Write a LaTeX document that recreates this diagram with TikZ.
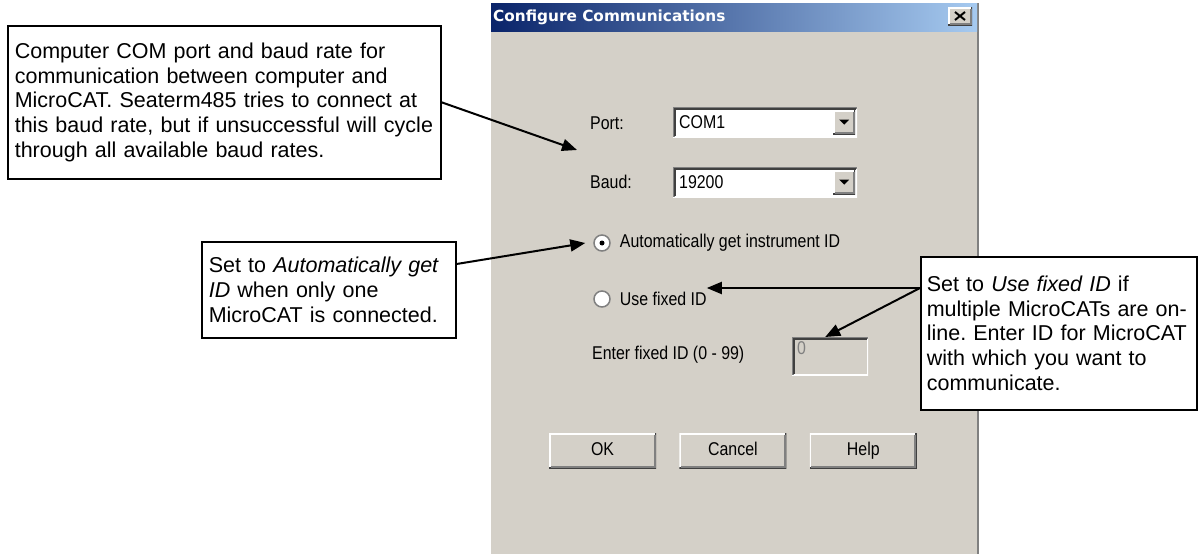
\documentclass[tikz,border=0pt]{standalone}
\usepackage{fontspec}
\setmainfont{Liberation Sans}
\newfontfamily\dlgfont[FakeStretch=0.86]{Liberation Sans}
\newfontfamily\titlefont{DejaVu Sans}
\usetikzlibrary{positioning,arrows.meta,calc}
\definecolor{winface}{HTML}{D4D0C8}
\definecolor{winshadow}{HTML}{808080}
\definecolor{windark}{HTML}{404040}
\definecolor{titledark}{HTML}{0A246A}
\definecolor{titlelight}{HTML}{A6CAF0}
\frenchspacing
\tikzset{
  raised/.style={fill=winface, inner sep=0pt,
    path picture={
      \draw[white, line width=3pt] (path picture bounding box.south west) |- (path picture bounding box.north east);
      \draw[windark, line width=3pt] (path picture bounding box.south west) -| (path picture bounding box.north east);
      \draw[winshadow, line width=2pt] ([shift={(1.5pt,1.5pt)}]path picture bounding box.south west) -| ([shift={(-1.5pt,-1.5pt)}]path picture bounding box.north east);
    }},
  sunken/.style={inner sep=0pt,
    path picture={
      \draw[white, line width=3pt] (path picture bounding box.south west) -| (path picture bounding box.north east);
      \draw[winshadow, line width=3pt] (path picture bounding box.south west) |- (path picture bounding box.north east);
      \draw[windark, line width=2pt] ([shift={(1.5pt,1.5pt)}]path picture bounding box.south west) |- ([shift={(-1.5pt,-1.5pt)}]path picture bounding box.north east);
    }},
}

\begin{document}
\begin{tikzpicture}[
    x=1pt, y=-1pt,
    callout/.style={draw, line width=1.6pt, fill=white, anchor=north west, align=left,
      inner xsep=7pt, font=\fontsize{21.5}{24.7}\selectfont,
      execute at begin node={\hyphenpenalty=10000}},
    callarrow/.style={line width=2pt, -{Triangle[length=15pt,width=12pt]}},
    dlglabel/.style={font=\dlgfont\fontsize{18.5}{20}\selectfont, inner sep=0pt, anchor=west},
    field/.style={sunken, fill=white, anchor=north west, minimum width=184pt, minimum height=30pt},
    dropbtn/.style={raised, minimum width=22pt, minimum height=24pt, anchor=east},
    radio/.style={circle, fill=white, draw=winshadow, line width=1.5pt, minimum size=16pt, inner sep=0pt},
    pushbtn/.style={raised, minimum width=107pt, minimum height=35pt, text height=13pt, text depth=4pt,
      font=\dlgfont\fontsize{18.5}{20}\selectfont}
  ]
  \useasboundingbox (0,0) rectangle (1200,554);

  % dialog window
  \fill[winface] (490,3) rectangle (979,560);
  \draw[white, line width=1pt] (490.5,560) -- (490.5,3.5) -- (978,3.5);
  \draw[winshadow, line width=1.5pt] (978,3) -- (978,560);
  \node (titlebar) [shade, left color=titledark, right color=titlelight, anchor=north west,
    minimum width=486pt, minimum height=28pt, inner sep=0pt] at (491,3) {};
  \node (title) [anchor=west, inner sep=0pt, text=white, font=\titlefont\bfseries\fontsize{15.3}{18}\selectfont]
    at (493,17) {Configure Communications};
  \node (closebtn) [raised, minimum width=24pt, minimum height=18pt] at (960,16) {};
  \draw[line width=2pt] ($(closebtn.center)+(-5,-4)$) -- ($(closebtn.center)+(5,4)$)
    ($(closebtn.center)+(-5,4)$) -- ($(closebtn.center)+(5,-4)$);

  % port and baud
  \node (port) [dlglabel] at (590,123) {Port:};
  \node (com) [field] at (673,107) {};
  \node (comtxt) [dlglabel, right=6pt of com.west] {COM1};
  \node (comdrop) [dropbtn] at ([xshift=-2pt]com.east) {};
  \fill ($(comdrop.center)+(-5,-2.5)$) -- ++(10,0) -- ++(-5,5) -- cycle;

  \node (baud) [dlglabel] at (590,182) {Baud:};
  \node (baudbox) [field] at (673,167) {};
  \node (baudtxt) [dlglabel, right=6pt of baudbox.west] {19200};
  \node (bauddrop) [dropbtn] at ([xshift=-2pt]baudbox.east) {};
  \fill ($(bauddrop.center)+(-5,-2.5)$) -- ++(10,0) -- ++(-5,5) -- cycle;

  % instrument ID
  \node (autoradio) [radio] at (602,243) {};
  \node (autodot) [circle, fill=black, minimum size=5pt, inner sep=0pt] at (autoradio) {};
  \node (autoid) [dlglabel, right=9pt of autoradio] {Automatically get instrument ID};
  \node (fixradio) [radio] at (602,299) {};
  \node (fixid) [dlglabel, right=9pt of fixradio] {Use fixed ID};
  \node (enterid) [dlglabel] at (592,355) {Enter fixed ID (0 - 99)};
  \node (idfield) [sunken, fill=winface, anchor=north west, minimum width=76pt, minimum height=38pt] at (792,337) {};
  \node (idval) [dlglabel, anchor=north west, text=winshadow] at ([shift={(5pt,-4pt)}]idfield.north west) {0};

  % buttons
  \node (okbtn) [pushbtn] at (602.5,450.5) {OK};
  \node (cancelbtn) [pushbtn, right=23pt of okbtn] {Cancel};
  \node (helpbtn) [pushbtn, right=23pt of cancelbtn] {Help};

  % callouts
  \node (portnote) [callout, text width=419pt, minimum height=153pt] at (7,25)
    {Computer COM port and baud rate for\\communication between computer and\\MicroCAT. Seaterm485 tries to connect at\\this baud rate, but if unsuccessful will cycle\\through all available baud rates.};
  \node (autonote) [callout, text width=240pt, minimum height=96pt] at (201,241)
    {Set to \textit{Automatically get}\\\textit{ID} when only one\\MicroCAT is connected.};
  \node (fixnote) [callout, inner xsep=6pt, text width=264pt, minimum height=153pt] at (920,256)
    {Set to \textit{Use fixed ID} if\\multiple MicroCATs are on-\\line. Enter ID for MicroCAT\\with which you want to\\communicate.};

  \coordinate (baudpt) at (577,150);
  \draw[callarrow] (portnote.east) -- (baudpt);
  \draw[callarrow] ([yshift=-23pt]autonote.north east) -- ([xshift=-8pt]autoradio.west);
  \coordinate (fixsrc) at ([yshift=-32pt]fixnote.north west);
  \draw[callarrow] (fixsrc) -- (fixsrc -| fixid.east);
  \draw[callarrow] (fixsrc) -- ([xshift=-5pt]idfield.north);
\end{tikzpicture}
\end{document}
